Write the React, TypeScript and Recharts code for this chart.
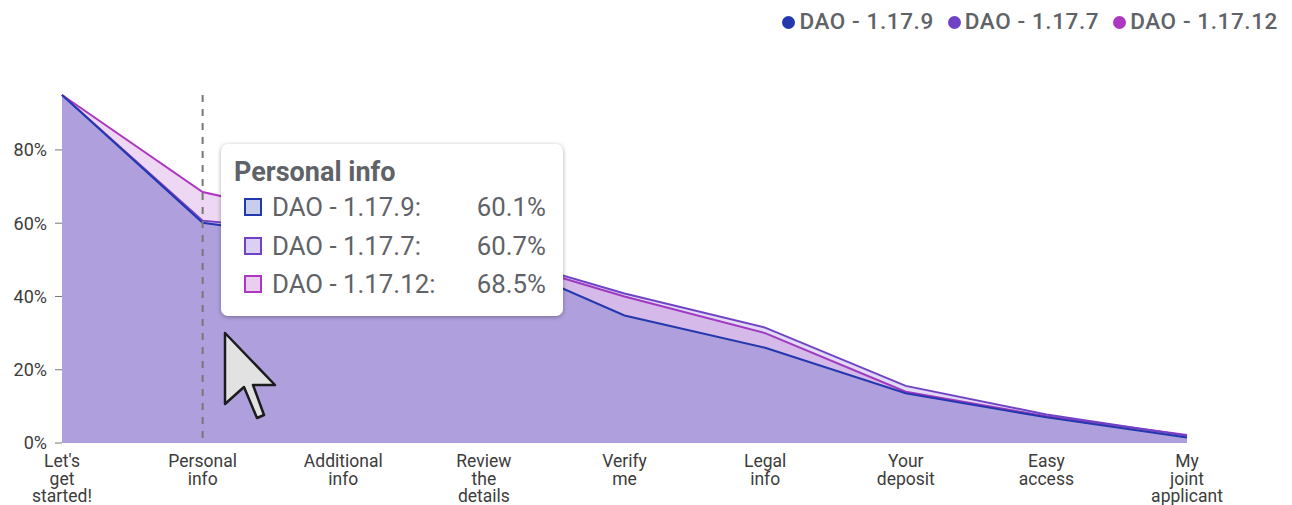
import { AreaChart, Area, XAxis, YAxis, Tooltip, Legend } from 'recharts';

const steps = [
  "Let's get started!",
  'Personal info',
  'Additional info',
  'Review the details',
  'Verify me',
  'Legal info',
  'Your deposit',
  'Easy access',
  'My joint applicant',
];
const dao1179 = [95, 60.1, 55, 51.6, 34.8, 26, 13.6, 7, 1.5];
const dao1177 = [95, 60.7, 57, 52, 40.8, 31.5, 15.6, 7.8, 2];
const dao11712 = [95, 68.5, 60, 51.4, 40, 30, 14, 7.3, 2.2];
const percentTicks = [0, 20, 40, 60, 80];

const BLUE = '#2438ae';
const PURPLE = '#7043c6';
const MAGENTA = '#ab38bf';
const TEXT_GREY = '#5f6368';
const FONT = 'Roboto, sans-serif';

const chartData = steps.map((step, i) => ({
  step,
  a: dao1179[i],
  b: dao1177[i],
  c: dao11712[i],
}));

function StepTick({ x, y, payload }: any) {
  const words = String(payload.value).split(' ');
  return (
    <text x={x} y={y} textAnchor="middle" fontFamily={FONT} fontSize={17.5} fill="#3c3c3c">
      {words.map((word, i) => (
        <tspan key={word} x={x} dy={i === 0 ? 16 : 17.5}>
          {word}
        </tspan>
      ))}
    </text>
  );
}

function HoverCard({ label, payload }: any) {
  if (!payload || payload.length === 0) return null;
  // series are drawn back to front, the card lists them a, b, c
  const rows = [...payload].sort((l: any, r: any) => l.dataKey.localeCompare(r.dataKey));
  return (
    <div
      style={{
        width: 342,
        height: 172,
        boxSizing: 'border-box',
        background: '#fff',
        borderRadius: 7,
        boxShadow: '0 1px 4px rgba(0,0,0,0.35)',
        padding: '13px 17px 0 13px',
        fontFamily: FONT,
        color: TEXT_GREY,
      }}
    >
      <div style={{ fontSize: 27, fontWeight: 700, lineHeight: '30px', marginBottom: 1 }}>{label}</div>
      {rows.map((entry: any) => (
        <div key={entry.dataKey} style={{ display: 'flex', alignItems: 'center', height: 38.5, fontSize: 25.8, paddingLeft: 10 }}>
          <span
            style={{
              width: 18,
              height: 18,
              boxSizing: 'border-box',
              border: `2px solid ${entry.color}`,
              background: `${entry.color}40`,
              marginRight: 10,
            }}
          />
          <span style={{ flex: 1 }}>{entry.name}:</span>
          <span>{entry.value.toFixed(1)}%</span>
        </div>
      ))}
    </div>
  );
}

export default function App() {
  return (
    <div style={{ position: 'absolute', left: 0, top: 0, width: 1292, height: 505, background: '#fff' }}>
      <AreaChart
        width={1292}
        height={505}
        data={chartData}
        margin={{ top: 95, right: 105, bottom: 12, left: 14 }}
      >
        <XAxis dataKey="step" axisLine={false} tickLine={false} interval={0} height={50} tick={<StepTick />} />
        <YAxis
          width={48}
          domain={[0, 95]}
          ticks={percentTicks}
          axisLine={false}
          tickSize={7}
          tickMargin={8}
          tickFormatter={(v) => `${v}%`}
          tick={{ fontFamily: FONT, fontSize: 18, fill: '#3c3c3c' }}
          stroke="#777"
        />
        <Legend
          verticalAlign="middle"
          align="center"
          iconType="circle"
          iconSize={13}
          itemSorter="dataKey"
          wrapperStyle={{ top: 5, left: 'auto', right: 0, bottom: 'auto', width: 'auto', height: 'auto' }}
          formatter={(value) => (
            <span style={{ position: 'relative', top: 3, paddingRight: 4, fontFamily: FONT, fontSize: 22.5, fontWeight: 500, color: TEXT_GREY, letterSpacing: 0.6 }}>{value}</span>
          )}
        />
        <Tooltip
          active
          defaultIndex={1}
          position={{ x: 221, y: 144 }}
          isAnimationActive={false}
          cursor={{ stroke: '#777', strokeWidth: 2, strokeDasharray: '7 7' }}
          content={<HoverCard />}
        />
        <Area type="linear" dataKey="c" name="DAO - 1.17.12" stroke={MAGENTA} strokeWidth={2} fill={MAGENTA} fillOpacity={0.2} activeDot={false} isAnimationActive={false} />
        <Area type="linear" dataKey="b" name="DAO - 1.17.7" stroke={PURPLE} strokeWidth={2} fill={PURPLE} fillOpacity={0.2} activeDot={false} isAnimationActive={false} />
        <Area type="linear" dataKey="a" name="DAO - 1.17.9" stroke={BLUE} strokeWidth={2} fill={BLUE} fillOpacity={0.2} activeDot={false} isAnimationActive={false} />
      </AreaChart>
      {/* mouse pointer from the screenshot */}
      <svg width={60} height={95} style={{ position: 'absolute', left: 220, top: 328, zIndex: 2000 }}>
        <path
          d="M5 5 L5 76 L24 59 L37 90 L44 87 L33 57 L55 57 Z"
          fill="#e2e2e2"
          stroke="#1c1c1c"
          strokeWidth={2.5}
          strokeLinejoin="round"
        />
      </svg>
    </div>
  );
}
